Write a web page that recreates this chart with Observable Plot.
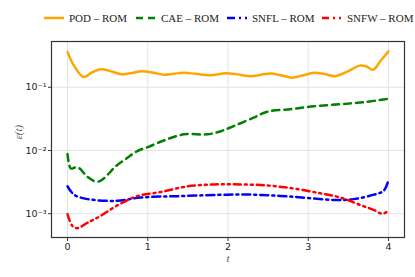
<!DOCTYPE html>
<html><head><meta charset="utf-8">
<script src="https://cdn.jsdelivr.net/npm/d3@7"></script>
<script src="https://cdn.jsdelivr.net/npm/@observablehq/plot@0.6"></script>
<style>
body{margin:0;background:#fff;}
#wrap{position:relative;width:415px;height:277px;}
#legend{position:relative;height:30px;width:415px;}
#legend .item{position:absolute;top:12px;display:flex;align-items:center;font-family:"Liberation Serif",serif;font-size:11px;color:#222;}
#legend svg{margin-right:5px;}
</style></head>
<body><div id="wrap"><div id="legend"></div><div id="chart"></div></div>
<script>
const seriesNames = ["POD – ROM", "CAE – ROM", "SNFL – ROM", "SNFW – ROM"];
const seriesColors = ["#FFA500", "#008000", "#0000FF", "#FF0000"];
const seriesDash = ["none", "7,5", "8,4,2,4", "7,4,2,4,2,4"];

const podT = [0, 0.08, 0.2, 0.3, 0.41, 0.55, 0.68, 0.8, 0.93, 1.07, 1.2, 1.32, 1.45, 1.6, 1.78, 1.97, 2.12, 2.28, 2.4, 2.53, 2.66, 2.8, 2.94, 3.07, 3.2, 3.34, 3.5, 3.64, 3.72, 3.81, 3.9, 4];
const podV = [0.36, 0.22, 0.145, 0.17, 0.193, 0.178, 0.16, 0.168, 0.18, 0.17, 0.158, 0.163, 0.17, 0.163, 0.155, 0.167, 0.16, 0.15, 0.157, 0.165, 0.155, 0.142, 0.155, 0.17, 0.162, 0.15, 0.18, 0.22, 0.215, 0.19, 0.26, 0.37];

const caeT = [0, 0.04, 0.1, 0.15, 0.25, 0.37, 0.45, 0.6, 0.73, 0.87, 1.0, 1.2, 1.45, 1.74, 1.91, 2.07, 2.32, 2.49, 2.78, 3.07, 3.4, 3.69, 4];
const caeV = [0.0088, 0.0052, 0.0054, 0.0052, 0.0038, 0.0032, 0.0036, 0.0056, 0.0074, 0.0098, 0.0113, 0.0144, 0.018, 0.018, 0.0202, 0.0243, 0.033, 0.041, 0.045, 0.05, 0.054, 0.058, 0.066];

const snflT = [0, 0.08, 0.25, 0.62, 0.91, 1.41, 2.0, 2.32, 2.82, 3.32, 3.57, 3.82, 3.94, 4];
const snflV = [0.0027, 0.002, 0.0017, 0.0016, 0.0018, 0.0019, 0.002, 0.002, 0.00185, 0.00165, 0.0017, 0.002, 0.0023, 0.0034];

const snfwT = [0, 0.06, 0.12, 0.25, 0.41, 0.62, 0.87, 1.16, 1.49, 1.83, 2.16, 2.49, 2.82, 3.15, 3.4, 3.65, 3.82, 3.92, 4];
const snfwV = [0.00098, 0.00064, 0.00059, 0.00072, 0.00092, 0.00135, 0.0019, 0.0022, 0.0027, 0.0029, 0.0029, 0.0028, 0.0025, 0.0021, 0.0018, 0.00137, 0.00114, 0.001, 0.0011];

const xTicks = [0, 1, 2, 3, 4];
const yTicks = [0.001, 0.01, 0.1];
const yTickLabels = ["10⁻³", "10⁻²", "10⁻¹"];
const yLabelMap = new Map(yTicks.map((d, i) => [d, yTickLabels[i]]));

const allT = [podT, caeT, snflT, snfwT];
const allV = [podV, caeV, snflV, snfwV];
const data = [];
allT.forEach((ts, i) => ts.forEach((t, j) => data.push({series: seriesNames[i], t, v: allV[i][j]})));

// legend
const legendX = [44, 136, 227, 322];
const leg = d3.select("#legend");
seriesNames.forEach((name, i) => {
  const item = leg.append("div").attr("class", "item").style("left", legendX[i] + "px");
  const s = item.append("svg").attr("width", 20).attr("height", 6);
  s.append("line").attr("x1", 0).attr("x2", 20).attr("y1", 3).attr("y2", 3)
    .attr("stroke", seriesColors[i]).attr("stroke-width", 2.5)
    .attr("stroke-dasharray", seriesDash[i]);
  item.append("span").text(name);
});

const plot = Plot.plot({
  width: 415, height: 247,
  marginTop: 11, marginBottom: 40, marginLeft: 51, marginRight: 11,
  style: {fontFamily: "DejaVu Sans, sans-serif", fontSize: "9.5px", color: "#222"},
  x: {domain: [-0.2, 4.2]},
  y: {type: "log", domain: [4.2e-4, 0.53]},
  marks: [
    Plot.gridX(xTicks, {stroke: "#e3e3e3", strokeOpacity: 1}),
    Plot.gridY(yTicks, {stroke: "#e3e3e3", strokeOpacity: 1}),
    ...seriesNames.map((name, i) => Plot.line(data.filter(d => d.series === name), {
      x: "t", y: "v", stroke: seriesColors[i], strokeWidth: 2.5,
      strokeDasharray: seriesDash[i] === "none" ? null : seriesDash[i],
      curve: "catmull-rom"
    })),
    Plot.frame({stroke: "#333", strokeWidth: 1.2}),
    Plot.axisX(xTicks, {tickSize: 4, tickPadding: 2, label: null, stroke: "#333"}),
    Plot.axisY(yTicks, {tickSize: 3, tickPadding: 2, label: null, tickFormat: d => yLabelMap.get(d) ?? "", stroke: "#333"}),
    Plot.text(["ε(t)"], {frameAnchor: "left", dx: -33, rotate: -90, fontFamily: "Liberation Serif, serif", fontStyle: "italic", fontSize: 11, fill: "#555"}),
    Plot.text(["t"], {frameAnchor: "bottom", dy: 24, fontFamily: "Liberation Serif, serif", fontStyle: "italic", fontSize: 11, fill: "#555"})
  ]
});
document.getElementById("chart").append(plot);
</script>
</body></html>
